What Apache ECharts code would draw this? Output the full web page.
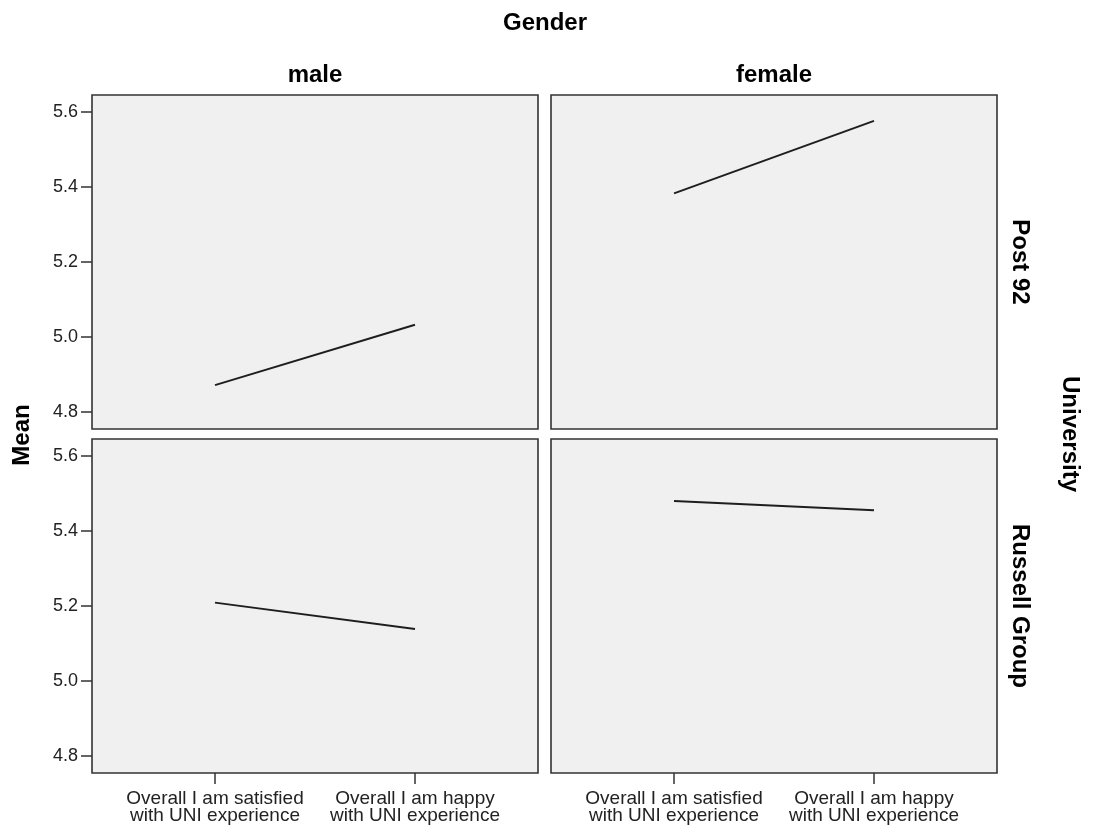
<!DOCTYPE html>
<html>
<head>
<meta charset="utf-8">
<script src="https://cdn.jsdelivr.net/npm/echarts@6/dist/echarts.min.js"></script>
<style>
html, body { margin: 0; padding: 0; background: #fff; }
#main { width: 1095px; height: 831px; }
</style>
</head>
<body>
<div id="main"></div>
<script>
// data
var categories = ['Overall I am satisfied\nwith UNI experience', 'Overall I am happy\nwith UNI experience'];
var genders = ['male', 'female'];
var universities = ['Post 92', 'Russell Group'];
var malePost92 = [4.872, 5.033];
var femalePost92 = [5.383, 5.576];
var maleRussell = [5.209, 5.139];
var femaleRussell = [5.48, 5.455];
var yTicks = [4.8, 5.0, 5.2, 5.4, 5.6];

var panels = [malePost92, femalePost92, maleRussell, femaleRussell];
var FONT = '"Liberation Sans", Arial, sans-serif';

var grids = [], xAxes = [], yAxes = [], series = [];

panels.forEach(function (vals, i) {
    var col = i % 2, row = Math.floor(i / 2);
    grids.push({
        left: col ? 551 : 92,
        top: row ? 439 : 95,
        width: 446,
        height: 334,
        show: true,
        backgroundColor: '#f0f0f0',
        borderColor: '#333',
        borderWidth: 1.6
    });
    xAxes.push({
        gridIndex: i,
        type: 'value',
        position: 'bottom',
        min: -0.615,
        max: 1.615,
        splitLine: { show: false },
        axisLine: { show: false, onZero: false },
        axisTick: {
            show: row === 1,
            customValues: [0, 1],
            length: 11,
            lineStyle: { color: '#333', width: 1.5 }
        },
        axisLabel: {
            show: row === 1,
            customValues: [0, 1],
            formatter: function (v) { return categories[Math.round(v)]; },
            margin: 17,
            fontFamily: FONT,
            fontSize: 19,
            lineHeight: 17,
            color: '#222'
        }
    });
    yAxes.push({
        gridIndex: i,
        type: 'value',
        position: 'left',
        min: 4.755,
        max: 5.645,
        splitLine: { show: false },
        axisLine: { show: false, onZero: false },
        axisTick: {
            show: col === 0,
            customValues: yTicks,
            length: 11,
            lineStyle: { color: '#333', width: 1.5 }
        },
        axisLabel: {
            show: col === 0,
            customValues: yTicks,
            formatter: function (v) { return v.toFixed(1); },
            margin: 14,
            fontFamily: FONT,
            fontSize: 18,
            color: '#222'
        }
    });
    series.push({
        type: 'line',
        xAxisIndex: i,
        yAxisIndex: i,
        symbol: 'none',
        silent: true,
        lineStyle: { color: '#1e1e1e', width: 2 },
        data: vals.map(function (v, k) { return [k, v]; })
    });
});

function label(text, x, y, rot) {
    return {
        type: 'text',
        x: x,
        y: y,
        rotation: rot || 0,
        style: {
            text: text,
            font: 'bold 24px ' + FONT,
            fill: '#000',
            textAlign: 'center',
            textVerticalAlign: 'middle'
        }
    };
}

var chart = echarts.init(document.getElementById('main'));
chart.setOption({
    animation: false,
    grid: grids,
    xAxis: xAxes,
    yAxis: yAxes,
    series: series,
    graphic: [
        label('Gender', 545, 23),
        label(genders[0], 315, 75),
        label(genders[1], 774, 75),
        label(universities[0], 1020, 262, -Math.PI / 2),
        label(universities[1], 1020, 606, -Math.PI / 2),
        label('University', 1070, 434, -Math.PI / 2),
        label('Mean', 22, 435, Math.PI / 2)
    ]
});
</script>
</body>
</html>
